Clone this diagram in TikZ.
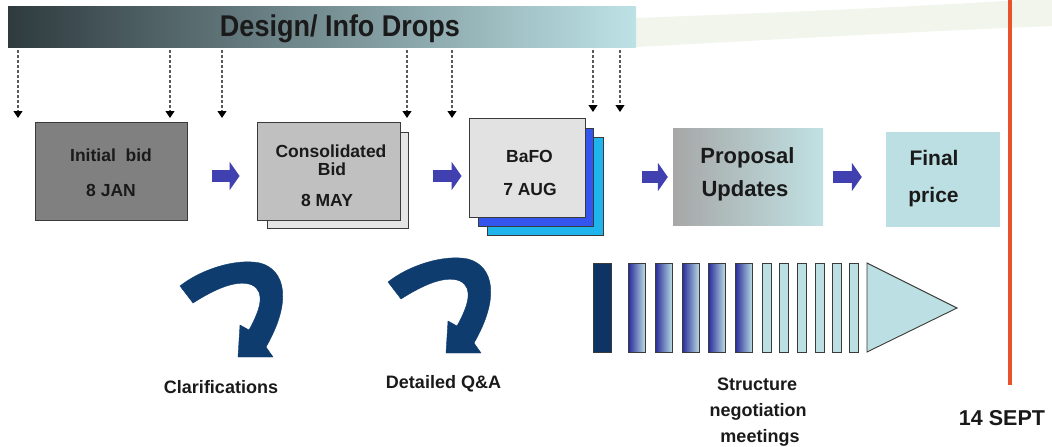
\documentclass[tikz,border=0pt]{standalone}
\usepackage{fontspec}
\setmainfont{Liberation Sans}
\newfontfamily\narrowfont{Liberation Sans}[FakeStretch=0.9]
\usetikzlibrary{arrows.meta,calc}
\definecolor{edge}{HTML}{3A3A3A}
\definecolor{txt}{HTML}{1A1A1A}
\definecolor{bardark}{HTML}{2E3A3E}
\definecolor{barmid}{HTML}{8AA4A9}
\definecolor{barlight}{HTML}{BDE2E6}
\definecolor{swoosh}{HTML}{F1F5EC}
\definecolor{orangeline}{HTML}{E8532B}
\definecolor{barrow}{HTML}{4040B0}
\definecolor{navy}{HTML}{0F3C6E}
\definecolor{navybar}{HTML}{0E3466}
\definecolor{gblue}{HTML}{2A2D9B}
\definecolor{gmid}{HTML}{8FA9D4}
\definecolor{pale}{HTML}{BBDFE2}
\definecolor{grayA}{HTML}{808080}
\definecolor{grayB}{HTML}{C0C0C0}
\definecolor{grayC}{HTML}{E4E4E4}
\definecolor{grayD}{HTML}{E2E2E2}
\definecolor{blueB}{HTML}{3355EE}
\definecolor{cyanC}{HTML}{1FB5EC}
\definecolor{propL}{HTML}{A7A7A7}
\definecolor{propR}{HTML}{C0E1E3}
\begin{document}
\begin{tikzpicture}[x=1pt,y=-1pt,
  card/.style={draw=edge, line width=0.9pt, inner sep=0pt},
  flat/.style={draw=none, inner sep=0pt},
  lbl/.style={font=\bfseries\fontsize{17.5}{21}\selectfont, text=txt, inner sep=0pt, anchor=base},
  biglbl/.style={font=\bfseries\fontsize{21.5}{25}\selectfont, text=txt, inner sep=0pt, anchor=base},
  blockarrow/.style={line width=12pt, draw=barrow, -{Triangle[length=10pt,width=28pt]}},
  dropline/.style={draw=black!65, line width=1.2pt, dash pattern=on 3pt off 2pt,
    -{Triangle[length=7pt,width=9pt,black]}},
  bar/.style={draw=edge, line width=0.9pt, inner sep=0pt, minimum height=89pt, anchor=north west},
  curvy/.style={fill=navy, draw=navy, line width=0.4pt}
]
\useasboundingbox (0,0) rectangle (1052,447);
\fill[white] (0,0) rectangle (1052,447);

% background swoosh
\fill[swoosh] (636,18) .. controls (800,12) and (950,5) .. (1052,-2)
  -- (1052,26) .. controls (950,30) and (800,38) .. (636,47) -- cycle;

% top bar
\node[flat, minimum width=628pt, minimum height=41pt,
  left color=bardark, middle color=barmid, right color=barlight] (bar) at (322,26.5) {};
\node[font=\narrowfont\bfseries\fontsize{30}{34}\selectfont, text=txt, inner sep=0pt, anchor=base]
  (title) at (340,36.5) {Design/ Info Drops};

% orange deadline line
\coordinate (o1) at (1010,0);
\coordinate (o2) at (1010,385);
\draw[orangeline, line width=4.5pt] (o1) -- (o2);

% dashed info drops
\foreach \x/\e [count=\i] in {18/118,170/118,222/118,407/118,452/118,593/112,620/112}{
  \coordinate (ds\i) at (\x,50);
  \coordinate (de\i) at (\x,\e);
  \draw[dropline] (ds\i) -- (de\i);
}

% boxes
\node[card, fill=grayA, minimum width=152pt, minimum height=98pt] (init) at (111,171) {};
\node[card, fill=grayC, minimum width=141pt, minimum height=96pt] (consB) at (337.5,180) {};
\node[card, fill=grayB, minimum width=143pt, minimum height=98pt] (cons) at (328.5,171) {};
\node[card, fill=cyanC, minimum width=116pt, minimum height=98pt] (bafoC) at (545,186) {};
\node[card, fill=blueB, minimum width=115pt, minimum height=98pt] (bafoB) at (535.5,177) {};
\node[card, fill=grayD, minimum width=116pt, minimum height=99pt] (bafo) at (527,167.5) {};
\node[flat, left color=propL, right color=propR, minimum width=150pt, minimum height=97pt] (prop) at (748,176.5) {};
\node[flat, fill=pale, minimum width=114pt, minimum height=95pt] (final) at (943,179.5) {};

% box texts
\node[lbl] (t1) at (111,161.3) {Initial\ \ bid};
\node[lbl] (t2) at (111,196.3) {8 JAN};
\node[lbl] (t3) at (331,157.5) {Consolidated};
\node[lbl] (t4) at (332,175) {Bid};
\node[lbl] (t5) at (327,206.3) {8 MAY};
\node[lbl] (t6) at (529.5,162) {BaFO};
\node[lbl] (t7) at (530,195) {7 AUG};
\node[font=\bfseries\fontsize{22}{26}\selectfont, text=txt, inner sep=0pt, anchor=base] (t8) at (747.5,163.3) {Proposal};
\node[font=\bfseries\fontsize{22}{26}\selectfont, text=txt, inner sep=0pt, anchor=base] (t9) at (745,196.7) {Updates};
\node[font=\bfseries\fontsize{21}{25}\selectfont, text=txt, inner sep=0pt, anchor=base] (t10) at (934,165) {Final};
\node[font=\bfseries\fontsize{21}{25}\selectfont, text=txt, inner sep=0pt, anchor=base] (t11) at (933.5,202.7) {price};

% block arrows between stages
\draw[blockarrow] ($(init.east)+(25,5)$) -- ($(cons.west)+(-17,5)$);
\draw[blockarrow] ($(consB.east)+(25,-4)$) -- ($(bafo.west)+(-7,8.5)$);
\draw[blockarrow] ($(bafoC.east)+(39,-9)$) -- ($(prop.west)+(-5,0.5)$);
\draw[blockarrow] ($(prop.east)+(10,0.5)$) -- ($(final.west)+(-24,-2.5)$);

% curved arrows
\foreach \sx/\sy in {0/0, 208/-4}{
  \fill[curvy, shift={(\sx,\sy)}]
    (180,286) .. controls (200,270) and (235,258) .. (260,263)
    .. controls (286,270) and (292,302) .. (266,347)
    -- (273,357) -- (238,357) -- (240,325) -- (249,330)
    .. controls (260,310) and (266,292) .. (252,285)
    .. controls (237,279) and (215,289) .. (193,303) -- cycle;
}
\node[lbl, font=\bfseries\fontsize{18}{21}\selectfont] (clar) at (221,393.3) {Clarifications};
\node[lbl, font=\bfseries\fontsize{18}{21}\selectfont] (qa) at (443.5,388.3) {Detailed Q\&A};

% negotiation meetings bars
\node[bar, fill=navybar, minimum width=18pt] (m0) at (593,263) {};
\foreach \a [count=\i] in {628,655,682,708,735}{
  \node[bar, left color=gblue, middle color=gmid, right color=pale, minimum width=17pt] (g\i) at (\a,263) {};
}
\foreach \a [count=\i] in {762,779,797,815,832,849}{
  \node[bar, fill=pale, minimum width=9pt] (p\i) at (\a,263) {};
}
\draw[draw=edge, line width=0.9pt, fill=pale] (867,263) -- (957,308) -- (867,352) -- cycle;

\node[lbl, font=\bfseries\fontsize{18}{21}\selectfont] (s1) at (757,390) {Structure};
\node[lbl, font=\bfseries\fontsize{18}{21}\selectfont] (s2) at (758,416.5) {negotiation};
\node[lbl, font=\bfseries\fontsize{18}{21}\selectfont] (s3) at (760,442) {meetings};

\node[biglbl] (sept) at (1002,425) {14 SEPT};
\end{tikzpicture}
\end{document}
